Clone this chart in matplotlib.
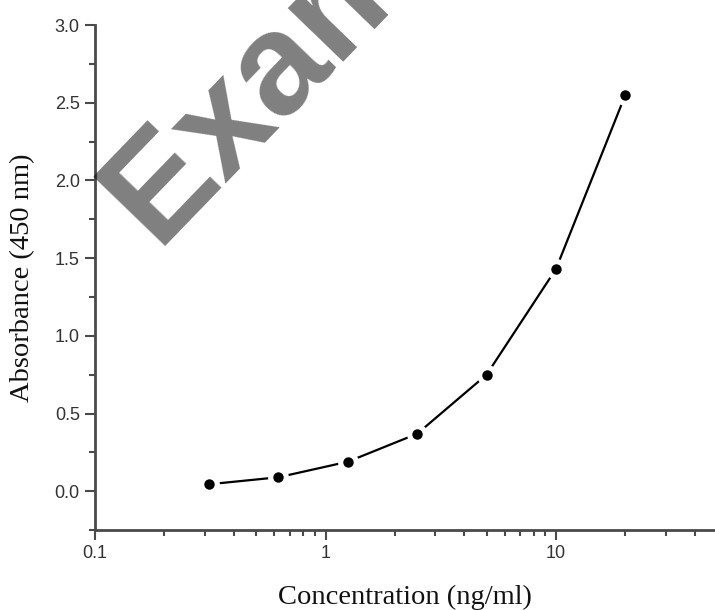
import numpy as np
import matplotlib.pyplot as plt
from matplotlib.ticker import FixedLocator, FixedFormatter, MultipleLocator, LogLocator, NullFormatter

# standard curve values
conc = [0.3125, 0.625, 1.25, 2.5, 5, 10, 20]
absorb = [0.045, 0.09, 0.19, 0.37, 0.75, 1.43, 2.55]
xtick_vals = [0.1, 1, 10]
xtick_labels = ['0.1', '1', '10']

fig = plt.figure(figsize=(7.15, 6.1), dpi=100)
ax = fig.add_axes([0.133, 0.131, 0.867, 0.828])

spine_col = '#4a4a4a'

# line with white halos round the points, so the line stops short of each dot
ax.plot(conc, absorb, color='black', lw=1.6, zorder=2)
ax.plot(conc, absorb, ls='none', marker='o', ms=15, mfc='white', mec='none', zorder=3)
ax.plot(conc, absorb, ls='none', marker='o', ms=7.5, mfc='black', mec='none', zorder=4)

ax.set_xscale('log')
ax.set_xlim(0.1, 49)
ax.set_ylim(-0.25, 3.0)

ax.xaxis.set_major_locator(FixedLocator(xtick_vals))
ax.xaxis.set_major_formatter(FixedFormatter(xtick_labels))
ax.xaxis.set_minor_locator(LogLocator(base=10, subs=np.arange(2, 10)))
ax.xaxis.set_minor_formatter(NullFormatter())
ax.yaxis.set_major_locator(MultipleLocator(0.5))
ax.yaxis.set_minor_locator(MultipleLocator(0.25))
ax.yaxis.set_major_formatter(plt.FuncFormatter(lambda v, p: f'{v:.1f}'))

for s in ['top', 'right']:
    ax.spines[s].set_visible(False)
for s in ['left', 'bottom']:
    ax.spines[s].set_color(spine_col)
    ax.spines[s].set_linewidth(2)
ax.spines['left'].set_bounds(-0.25, 3.0)

ax.tick_params(which='major', direction='out', length=7, width=1.5, color=spine_col,
               labelsize=13, labelcolor='#333333', pad=4)
ax.tick_params(which='minor', direction='out', length=4, width=1.5, color=spine_col)
for lbl in ax.get_xticklabels() + ax.get_yticklabels():
    lbl.set_family('Liberation Sans')

ax.set_xlabel('Concentration (ng/ml)', family='Liberation Serif', fontsize=20.5, labelpad=16, color='#111111')
ax.set_ylabel('Absorbance (450 nm)', family='Liberation Serif', fontsize=20.5, labelpad=14, color='#111111')

# watermark
fig.text(0.218, 0.597, 'Example', family='Liberation Sans', weight='bold', fontsize=104,
         color='black', alpha=0.5, rotation=46, rotation_mode='anchor',
         ha='left', va='baseline', zorder=10)

fig.savefig('out.png', dpi=100)
